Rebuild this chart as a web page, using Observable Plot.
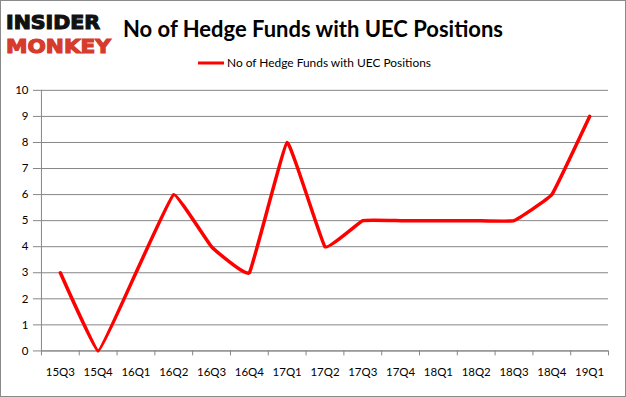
<!DOCTYPE html>
<html><head><meta charset="utf-8">
<script src="https://cdn.jsdelivr.net/npm/d3@7"></script>
<script src="https://cdn.jsdelivr.net/npm/@observablehq/plot@0.6"></script>
<style>
html,body{margin:0;padding:0;background:#fff;}
#wrap{position:relative;width:624px;height:395px;border:1px solid #8a8a8a;overflow:hidden;background:#fff;}
#head{position:absolute;left:0;top:0;}
#chart{position:absolute;left:-1px;top:-1px;}
</style></head>
<body>
<div id="wrap">
<div id="chart"></div>
<svg id="head" width="626" height="80" font-family="Lato, 'Open Sans', sans-serif">
  <text x="5" y="28" font-family="'DejaVu Sans', sans-serif" font-weight="900" font-size="20" fill="#111" stroke="#111" stroke-width="1.2" textLength="94" lengthAdjust="spacingAndGlyphs">INSIDER</text>
  <text x="5" y="52" font-family="'DejaVu Sans', sans-serif" font-weight="900" font-size="20" fill="#d63b2b" stroke="#d63b2b" stroke-width="1.2" textLength="105" lengthAdjust="spacingAndGlyphs">MONKEY</text>
  <text x="122" y="36" font-weight="700" font-size="22" fill="#000" textLength="380" lengthAdjust="spacingAndGlyphs">No of Hedge Funds with UEC Positions</text>
  <line x1="197" x2="223" y1="62" y2="62" stroke="#ff0000" stroke-width="3"/>
  <text x="226" y="66" font-size="11.5" fill="#000" textLength="204" lengthAdjust="spacingAndGlyphs">No of Hedge Funds with UEC Positions</text>
</svg>
</div>
<script>
const quarters = ["15Q3","15Q4","16Q1","16Q2","16Q3","16Q4","17Q1","17Q2","17Q3","17Q4","18Q1","18Q2","18Q3","18Q4","19Q1"];
const funds = [3,0,3,6,4,3,8,4,5,5,5,5,5,6,9];
const yTicks = [0,1,2,3,4,5,6,7,8,9,10];

const data = quarters.map((q,i)=>({i, q, v: funds[i]}));
const idx = d3.range(quarters.length);
const edges = d3.range(quarters.length + 1).map(k => k - 0.5);

const chart = Plot.plot({
  width: 626,
  height: 397,
  marginTop: 90,
  marginBottom: 46,
  marginLeft: 41,
  marginRight: 17,
  style: {fontFamily: "Lato, 'Open Sans', sans-serif", fontSize: "11px", color: "#000", background: "transparent"},
  x: {type: "linear", domain: [-0.5, quarters.length - 0.5], axis: null, label: null},
  y: {domain: [0, 10], axis: null, label: null},
  marks: [
    Plot.gridY(yTicks, {stroke: "#868686", strokeOpacity: 1, strokeWidth: 1}),
    Plot.axisY(yTicks, {tickSize: 8, tickPadding: 5, stroke: "#868686", fontSize: 11.5, fill: "#000", label: null}),
    Plot.ruleX([-0.5], {stroke: "#868686"}),
    Plot.axisX(edges, {tickSize: 5, tickFormat: () => "", stroke: "#868686", label: null}),
    Plot.axisX(idx, {tickSize: 0, tickPadding: 17, tickFormat: i => quarters[i], fontSize: 11.5, fill: "#000", label: null}),
    Plot.ruleY([0], {stroke: "#868686"}),
    Plot.line(data, {x: "i", y: "v", stroke: "#ff0000", strokeWidth: 3.5, curve: d3.curveCardinal.tension(0.75)})
  ]
});
document.getElementById("chart").appendChild(chart);
</script>
</body></html>
